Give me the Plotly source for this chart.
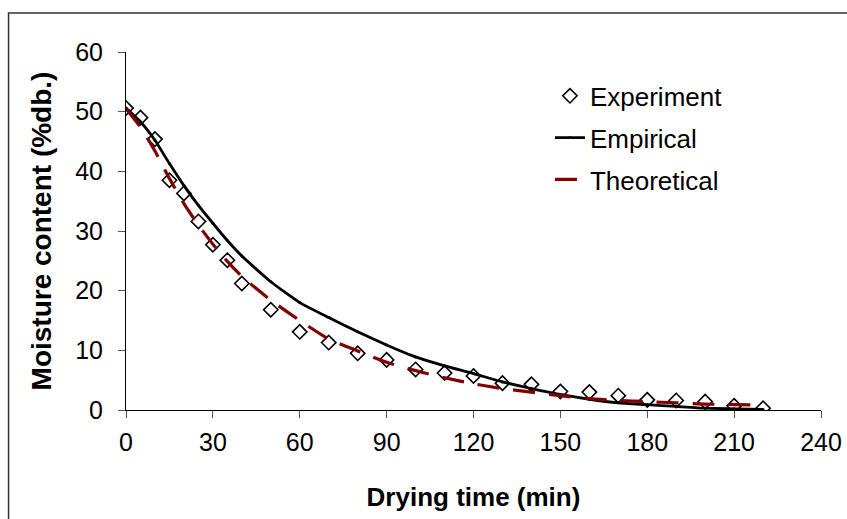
import plotly.graph_objects as go

time_min = [0, 5, 10, 15, 20, 25, 30, 35, 40, 50, 60, 70, 80, 90, 100, 110,
            120, 130, 140, 150, 160, 170, 180, 190, 200, 210, 220]
experiment = [50.6, 49.0, 45.4, 38.5, 36.3, 31.6, 27.7, 25.1, 21.2, 16.8, 13.1,
              11.3, 9.5, 8.4, 6.8, 6.2, 5.7, 4.5, 4.3, 3.1, 3.0, 2.4, 1.7, 1.6,
              1.4, 0.7, 0.3]
empirical = [50.6, 48.3, 45.2, 41.3, 37.6, 34.3, 31.3, 28.4, 25.8, 21.5, 18.0,
             15.5, 13.1, 10.9, 8.9, 7.4, 6.1, 4.7, 3.6, 2.6, 1.8, 1.2, 0.9, 0.6,
             0.3, 0.2, 0.1]
theoretical = [50.5, 47.4, 43.4, 38.8, 34.6, 31.0, 27.8, 24.9, 22.4, 18.4, 15.0,
               11.9, 9.9, 8.0, 6.6, 5.4, 4.4, 3.6, 3.0, 2.4, 1.9, 1.6, 1.4, 1.2,
               1.0, 0.9, 0.8]

x_ticks = [0, 30, 60, 90, 120, 150, 180, 210, 240]
y_ticks = [0, 10, 20, 30, 40, 50, 60]

FONT = "Liberation Sans, Arial, sans-serif"

fig = go.Figure()
fig.add_trace(go.Scatter(
    x=time_min, y=experiment, mode="markers", name="Experiment",
    legendgroup="g1",
    marker=dict(symbol="diamond-open", size=11, color="black",
                line=dict(width=1.6, color="black")),
))
fig.add_trace(go.Scatter(
    x=time_min, y=empirical, mode="lines+markers", name="Empirical",
    legendgroup="g2",
    line=dict(color="black", width=2.8, shape="spline", smoothing=0.5),
    marker=dict(size=3, color="black"),
))
fig.add_trace(go.Scatter(
    x=time_min, y=theoretical, mode="lines", name="Theoretical",
    legendgroup="g3",
    line=dict(color="#800000", width=3.2, dash="22px,14px",
              shape="spline", smoothing=0.6),
))

fig.update_layout(
    width=847, height=519,
    margin=dict(l=125.5, r=26, t=52, b=109, autoexpand=False),
    paper_bgcolor="white", plot_bgcolor="white",
    font=dict(family=FONT, color="black", size=25),
    showlegend=True,
    legend=dict(x=0.61, y=0.943, xanchor="left", yanchor="top",
                font=dict(size=26, family=FONT, color="black"),
                bgcolor="rgba(0,0,0,0)", tracegroupgap=5),
    xaxis=dict(range=[0, 240], tickvals=x_ticks, ticks="outside", ticklen=7,
               tickcolor="#555", tickwidth=1, showline=True, linecolor="black",
               linewidth=1, showgrid=False, zeroline=False, automargin=False,
               tickfont=dict(size=25, family=FONT), ticklabelstandoff=3,
               title=dict(text="<b>Drying time (min)</b>",
                          font=dict(size=26, family=FONT), standoff=32)),
    yaxis=dict(range=[0, 60], tickvals=y_ticks, ticks="outside", ticklen=7,
               tickcolor="#555", tickwidth=1, showline=True, linecolor="black",
               linewidth=1, showgrid=False, zeroline=False, automargin=False,
               tickfont=dict(size=25, family=FONT), ticklabelstandoff=10,
               title=dict(text="<b>Moisture content (%db.)</b>",
                          font=dict(size=28, family=FONT), standoff=15)),
    shapes=[dict(type="rect", xref="paper", yref="paper",
                 x0=-0.169, x1=1.1, y0=-0.4, y1=1.109,
                 line=dict(color="#333333", width=1.5), layer="below")],
)

fig.write_html("out.html")
